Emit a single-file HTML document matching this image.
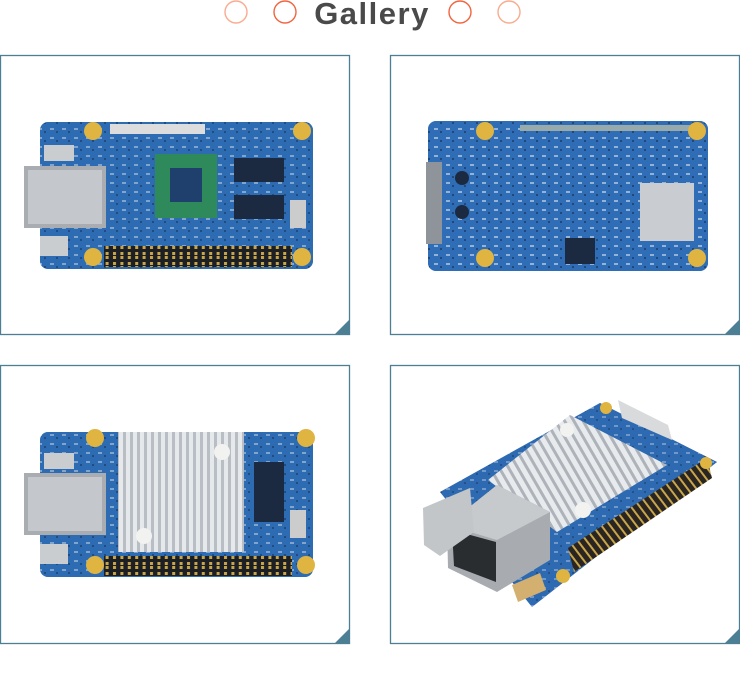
<!DOCTYPE html>
<html><head><meta charset="utf-8"><style>
body{margin:0;background:#fff;width:740px;height:673px;overflow:hidden}
</style></head><body>
<svg width="740" height="673" viewBox="0 0 740 673" xmlns="http://www.w3.org/2000/svg">
<defs>
<pattern id="fins" width="7" height="10" patternUnits="userSpaceOnUse"><rect width="7" height="10" fill="#b9bec4"/><rect width="4" height="10" fill="#e6e9ec"/></pattern>
<pattern id="fins2" width="8" height="8" patternUnits="userSpaceOnUse" patternTransform="rotate(-30)"><rect width="8" height="8" fill="#aeb3b9"/><rect width="5" height="8" fill="#e8ebee"/></pattern>
<pattern id="pins" width="7.4" height="10" patternUnits="userSpaceOnUse"><rect width="7.4" height="10" fill="#1c1f24"/><rect x="2" y="2" width="3" height="3" fill="#c9a64a"/><rect x="2" y="6" width="3" height="3" fill="#c9a64a"/></pattern>
<pattern id="pins2" width="7" height="6" patternUnits="userSpaceOnUse" patternTransform="rotate(-37)"><rect width="7" height="6" fill="#2a2520"/><rect x="2" y="0" width="2" height="6" fill="#c9a64a"/></pattern>
<pattern id="trace" width="12" height="9" patternUnits="userSpaceOnUse"><rect width="12" height="9" fill="#2f6fb6"/><rect x="2" y="2" width="4" height="2" fill="#d8e2ec"/><rect x="8" y="5" width="2" height="2" fill="#1a3050"/></pattern>
</defs>
<g fill="none" stroke-width="1.4">
<circle cx="236" cy="12" r="11" stroke="#f9ab8e"/>
<circle cx="285" cy="12" r="11" stroke="#f2643f"/>
<circle cx="460" cy="12" r="11" stroke="#f2643f"/>
<circle cx="509" cy="12" r="11" stroke="#f9ab8e"/>
</g>
<text x="372" y="24" text-anchor="middle" font-family="Liberation Sans, sans-serif" font-weight="bold" font-size="31" fill="#4a4a4a" letter-spacing="1.5">Gallery</text>
<g fill="none" stroke="#4d7f94" stroke-width="1.3">
<rect x="0.5" y="55.5" width="349" height="279"/>
<rect x="390.5" y="55.5" width="349" height="279"/>
<rect x="0.5" y="365.5" width="349" height="278"/>
<rect x="390.5" y="365.5" width="349" height="278"/>
</g>
<g fill="#4d7f94">
<polygon points="350,319 350,335 334,335"/>
<polygon points="740,319 740,335 724,335"/>
<polygon points="350,628 350,644 334,644"/>
<polygon points="740,628 740,644 724,644"/>
</g>
<!-- board 1 -->
<rect x="40" y="122" width="273" height="147" rx="8" fill="#2b68b0"/>
<rect x="40" y="122" width="273" height="147" rx="8" fill="url(#trace)" opacity=".5"/>
<rect x="110" y="124" width="95" height="10" fill="#ddd"/>
<rect x="24" y="166" width="82" height="62" fill="#a9adb2"/>
<rect x="28" y="170" width="74" height="54" fill="#c4c8cc"/>
<rect x="44" y="145" width="30" height="16" fill="#c9cdd0"/>
<rect x="40" y="236" width="28" height="20" fill="#c9cdd0"/>
<rect x="155" y="154" width="62" height="64" fill="#2e8a5a"/>
<rect x="170" y="168" width="32" height="34" fill="#1f3f6c"/>
<rect x="234" y="158" width="50" height="24" fill="#1b2a40"/>
<rect x="234" y="195" width="50" height="24" fill="#1b2a40"/>
<rect x="290" y="200" width="16" height="28" fill="#ccc"/>
<rect x="104" y="246" width="188" height="21" fill="url(#pins)"/>
<g fill="#e0b440"><circle cx="93" cy="131" r="9"/><circle cx="302" cy="131" r="9"/><circle cx="93" cy="257" r="9"/><circle cx="302" cy="257" r="9"/></g>
<!-- board 2 -->
<rect x="428" y="121" width="280" height="150" rx="8" fill="#2f6cb6"/>
<rect x="428" y="121" width="280" height="150" rx="8" fill="url(#trace)" opacity=".6"/>
<rect x="426" y="162" width="16" height="82" fill="#8e949a"/>
<rect x="640" y="183" width="54" height="58" fill="#c9ccd0"/>
<rect x="520" y="125" width="170" height="6" fill="#9aa"/>
<rect x="565" y="238" width="30" height="26" fill="#1b2a40"/>
<g fill="#e0b440"><circle cx="485" cy="131" r="9"/><circle cx="697" cy="131" r="9"/><circle cx="485" cy="258" r="9"/><circle cx="697" cy="258" r="9"/></g>
<g fill="#1b2a40"><circle cx="462" cy="178" r="7"/><circle cx="462" cy="212" r="7"/></g>
<!-- board 3 -->
<rect x="40" y="432" width="273" height="145" rx="8" fill="#2b68b0"/>
<rect x="40" y="432" width="273" height="145" rx="8" fill="url(#trace)" opacity=".5"/>
<rect x="24" y="473" width="82" height="62" fill="#a9adb2"/>
<rect x="28" y="477" width="74" height="54" fill="#c4c8cc"/>
<rect x="44" y="453" width="30" height="16" fill="#c9cdd0"/>
<rect x="40" y="544" width="28" height="20" fill="#c9cdd0"/>
<rect x="118" y="432" width="126" height="120" fill="url(#fins)"/>
<rect x="254" y="462" width="30" height="60" fill="#1b2a40"/>
<rect x="290" y="510" width="16" height="28" fill="#ccc"/>
<rect x="104" y="556" width="188" height="20" fill="url(#pins)"/>
<circle cx="222" cy="452" r="8" fill="#f2f2f0"/><circle cx="144" cy="536" r="8" fill="#f2f2f0"/>
<g fill="#e0b440"><circle cx="95" cy="438" r="9"/><circle cx="306" cy="438" r="9"/><circle cx="95" cy="565" r="9"/><circle cx="306" cy="565" r="9"/></g>
<!-- board 4 -->
<polygon points="600,403 717,462 532,607 440,492" fill="#2d66ad"/>
<polygon points="600,403 717,462 532,607 440,492" fill="url(#trace)" opacity=".4"/>
<polygon points="618,400 668,425 672,440 622,418" fill="#d8dadc"/>
<polygon points="570,415 667,465 557,532 488,480" fill="url(#fins2)"/>
<polygon points="568,548 707,458 712,478 574,572" fill="url(#pins2)"/>
<polygon points="447,525 497,485 550,512 550,560 497,592 448,568" fill="#a8acb0"/>
<polygon points="497,485 550,512 497,540 447,525" fill="#c7cacd"/>
<polygon points="452,530 496,542 496,582 454,566" fill="#2a2d30"/>
<polygon points="423,508 470,488 474,532 440,556 424,545" fill="#c3c6c9"/>
<polygon points="512,585 540,573 546,590 518,602" fill="#d4b070"/>
<g fill="#e0b440"><circle cx="606" cy="408" r="6"/><circle cx="706" cy="463" r="6"/><circle cx="563" cy="576" r="7"/></g>
<circle cx="567" cy="430" r="7" fill="#f2f2f0"/><circle cx="583" cy="510" r="8" fill="#f2f2f0"/>
</svg>
</body></html>
